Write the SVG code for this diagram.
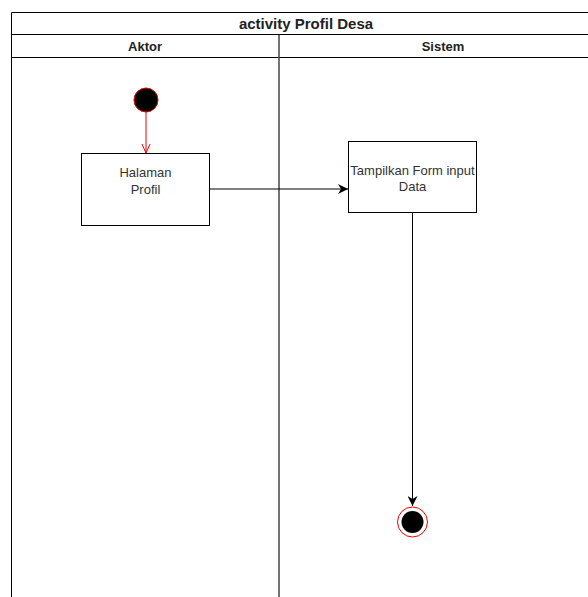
<svg xmlns="http://www.w3.org/2000/svg" width="588" height="597" viewBox="0 0 588 597">
  <defs>
    <style>
      .frame { fill: none; stroke: #000; stroke-width: 1; }
      .lane { stroke: #444; stroke-width: 1.5; }
      .title { font-family: "Liberation Sans", Arial, sans-serif; font-weight: bold; font-size: 15px; fill: #222; text-anchor: middle; }
      .head { font-family: "Liberation Sans", Arial, sans-serif; font-weight: bold; font-size: 13px; fill: #222; text-anchor: middle; }
      .box { fill: #fff; stroke: #000; stroke-width: 1; }
      .label { font-family: "Liberation Sans", Arial, sans-serif; font-size: 13px; fill: #333; text-anchor: middle; }
      .flow { fill: none; stroke: #000; stroke-width: 1; }
      .flow-red { fill: none; stroke: #e00; stroke-width: 1; }
    </style>
    <marker id="arrow-filled" viewBox="0 0 10 10" refX="10" refY="5" markerWidth="10" markerHeight="10" markerUnits="userSpaceOnUse" orient="auto">
      <path d="M0,0 L10,5 L0,10 L3,5 Z" fill="#000"/>
    </marker>
    <marker id="arrow-open" viewBox="0 0 10 12" refX="5" refY="12" markerWidth="10" markerHeight="12" markerUnits="userSpaceOnUse" orient="0">
      <path d="M1,3 L5,12 L9,3" fill="none" stroke="#e00" stroke-width="1"/>
    </marker>
  </defs>

  <rect width="588" height="597" fill="#fff"/>

  <!-- Pool: title bar, lane headers and lane divider -->
  <g id="pool">
    <path class="frame" d="M11.5,600 V12.5 H610"/>
    <line class="frame" x1="11" y1="34.5" x2="610" y2="34.5"/>
    <line class="frame" x1="11" y1="57.5" x2="610" y2="57.5"/>
    <line class="lane" x1="279" y1="35" x2="279" y2="600"/>
    <text class="title" x="306" y="29">activity Profil Desa</text>
    <text class="head" x="145" y="51">Aktor</text>
    <text class="head" x="443" y="51">Sistem</text>
  </g>

  <!-- Connectors -->
  <g id="connectors">
    <line class="flow-red" x1="146" y1="112" x2="146" y2="153" marker-end="url(#arrow-open)"/>
    <line class="flow" x1="209" y1="189" x2="348" y2="189" marker-end="url(#arrow-filled)"/>
    <line class="flow" x1="412.5" y1="212" x2="412.5" y2="506" marker-end="url(#arrow-filled)"/>
  </g>

  <!-- Initial node -->
  <g id="start">
    <circle cx="146" cy="100" r="12" fill="#000" stroke="#e00" stroke-width="1"/>
  </g>

  <!-- Activity: Halaman Profil -->
  <g id="halaman-profil">
    <rect class="box" x="81.5" y="153.5" width="128" height="72"/>
    <text class="label" x="145.5" y="177">Halaman</text>
    <text class="label" x="145.5" y="194">Profil</text>
  </g>

  <!-- Activity: Tampilkan Form input Data -->
  <g id="tampilkan-form">
    <rect class="box" x="348.5" y="141.5" width="128" height="71"/>
    <text class="label" x="412.5" y="175">Tampilkan Form input</text>
    <text class="label" x="412.5" y="191">Data</text>
  </g>

  <!-- Final node -->
  <g id="end">
    <circle cx="412.5" cy="522" r="15" fill="#fff" stroke="#e00" stroke-width="1"/>
    <circle cx="412.5" cy="522" r="11" fill="#000"/>
  </g>
</svg>
